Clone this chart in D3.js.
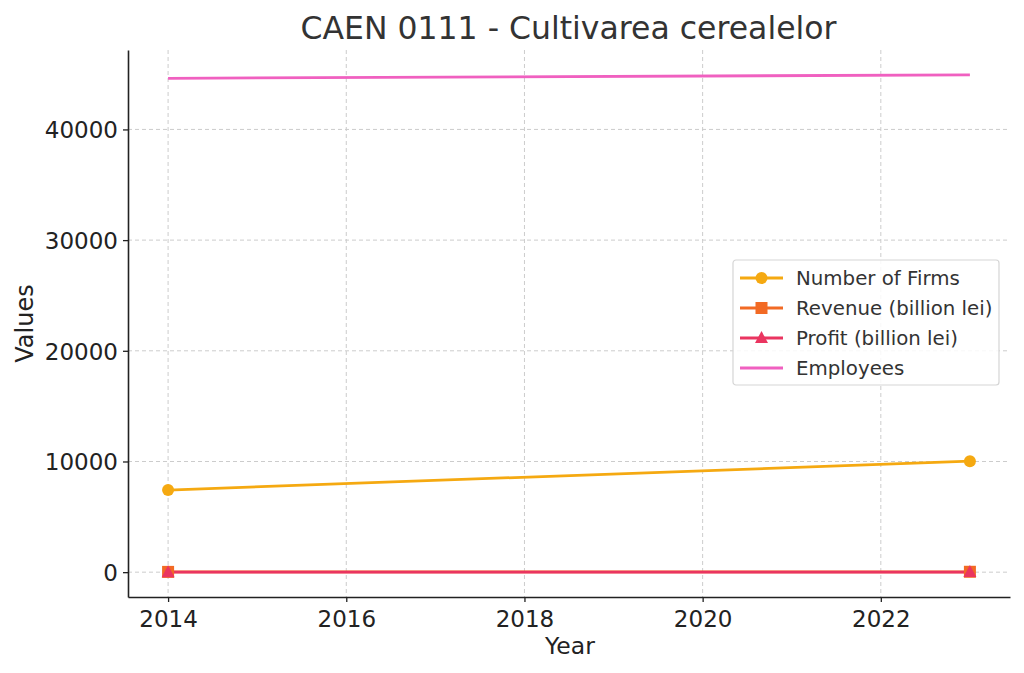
<!DOCTYPE html>
<html><head><meta charset="utf-8">
<script src="https://cdn.jsdelivr.net/npm/d3@7"></script>
<style>body{margin:0;background:#fff;} svg{display:block;font-family:"DejaVu Sans",sans-serif;}</style>
</head><body><svg id="c" width="1024" height="673"></svg>
<script>
const years = [2014, 2023];
const firms = [7420, 10030];
const revenue = [25, 35];
const profit = [3, 5];
const employees = [44620, 44930];
const xTicks = [2014, 2016, 2018, 2020, 2022];
const yTicks = [0, 10000, 20000, 30000, 40000];
const seriesNames = ["Number of Firms", "Revenue (billion lei)", "Profit (billion lei)", "Employees"];

const series = [
  {name: seriesNames[0], values: firms, color: "#f5a911", marker: "circle"},
  {name: seriesNames[1], values: revenue, color: "#f26a24", marker: "square"},
  {name: seriesNames[2], values: profit, color: "#ea3560", marker: "triangle"},
  {name: seriesNames[3], values: employees, color: "#f060c0", marker: null}
];

const svg = d3.select("#c");
const L = 128, R = 1010, T = 50, B = 597;
const allVals = series.flatMap(s => s.values);
const ymin = d3.min(allVals), ymax = d3.max(allVals);
const ypad = (ymax - ymin) * 0.05;
const x = d3.scaleLinear().domain([2014 - 0.45, 2023 + 0.45]).range([L, R]);
const y = d3.scaleLinear().domain([ymin - ypad, ymax + ypad]).range([B, T]);

// grid
const grid = svg.append("g");
grid.selectAll(".vg").data(xTicks).enter().append("line")
  .attr("x1", d => x(d)).attr("x2", d => x(d)).attr("y1", T).attr("y2", B)
  .attr("stroke", "#cccccc").attr("stroke-width", 1).attr("stroke-dasharray", "4,3");
grid.selectAll(".hg").data(yTicks).enter().append("line")
  .attr("x1", L).attr("x2", R).attr("y1", d => y(d)).attr("y2", d => y(d))
  .attr("stroke", "#cccccc").attr("stroke-width", 1).attr("stroke-dasharray", "4,3");

// axes
const xAxis = d3.axisBottom(x).tickValues(xTicks).tickFormat(d3.format("d")).tickSizeInner(5).tickSizeOuter(0).tickPadding(5);
const yAxis = d3.axisLeft(y).tickValues(yTicks).tickFormat(d3.format("d")).tickSizeInner(5).tickSizeOuter(0).tickPadding(5);
const gx = svg.append("g").attr("transform", `translate(0,${B})`).call(xAxis);
const gy = svg.append("g").attr("transform", `translate(${L},0)`).call(yAxis);
[gx, gy].forEach(g => {
  g.select(".domain").attr("stroke", "#222").attr("stroke-width", 1.6);
  g.selectAll(".tick line").attr("stroke", "#222").attr("stroke-width", 1.3);
  g.selectAll(".tick text").attr("fill", "#222").style("font-size", "23px").style("font-family", "DejaVu Sans");
});
gx.selectAll(".tick text").attr("dy", "0.88em");
gy.selectAll(".tick text").attr("dy", "0.36em");

// lines
const line = d3.line().x((d, i) => x(years[i])).y(d => y(d));
series.forEach(s => {
  svg.append("path").datum(s.values).attr("d", line)
    .attr("fill", "none").attr("stroke", s.color).attr("stroke-width", 2.8);
});
function drawMarker(g, type, cx, cy, color) {
  if (type === "circle") g.append("circle").attr("cx", cx).attr("cy", cy).attr("r", 6).attr("fill", color);
  else if (type === "square") g.append("rect").attr("x", cx - 6).attr("y", cy - 6).attr("width", 12).attr("height", 12).attr("fill", color);
  else if (type === "triangle") g.append("path").attr("d", `M${cx},${cy-7}L${cx+6.5},${cy+5}L${cx-6.5},${cy+5}Z`).attr("fill", color);
}
const mg = svg.append("g");
series.forEach(s => {
  if (!s.marker) return;
  s.values.forEach((v, i) => drawMarker(mg, s.marker, x(years[i]), y(v), s.color));
});

// title & labels
svg.append("text").attr("x", (L + R) / 2 - 0.5).attr("y", 39).attr("text-anchor", "middle")
  .attr("fill", "#333").style("font-size", "31.5px").text("CAEN 0111 - Cultivarea cerealelor");
svg.append("text").attr("x", (L + R) / 2 + 1).attr("y", 654).attr("text-anchor", "middle")
  .attr("fill", "#222").style("font-size", "23.5px").text("Year");
svg.append("text").attr("transform", `translate(33,${(T + B) / 2}) rotate(-90)`).attr("text-anchor", "middle")
  .attr("fill", "#222").style("font-size", "24px").text("Values");

// legend
const lg = svg.append("g").attr("transform", "translate(733,260)");
lg.append("rect").attr("x", 0).attr("y", 0).attr("width", 266).attr("height", 125).attr("rx", 3)
  .attr("fill", "#fff").attr("fill-opacity", 0.85).attr("stroke", "#d5d5d5").attr("stroke-width", 1.2);
series.forEach((s, i) => {
  const yy = 18 + i * 30;
  lg.append("line").attr("x1", 7).attr("x2", 50).attr("y1", yy).attr("y2", yy).attr("stroke", s.color).attr("stroke-width", 2.8);
  if (s.marker) drawMarker(lg, s.marker, 28.5, yy, s.color);
  lg.append("text").attr("x", 63).attr("y", yy).attr("dy", "0.36em").attr("fill", "#333")
    .style("font-size", "19.8px").text(s.name);
});
</script></body></html>
